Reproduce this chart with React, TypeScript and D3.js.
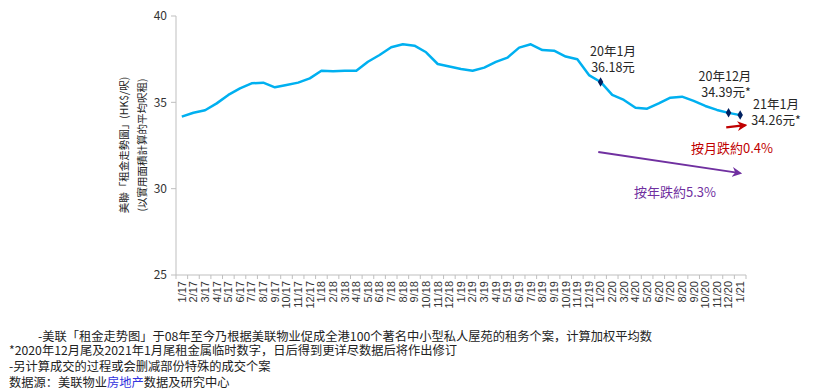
import React from "react";
import * as d3 from "d3";

const months: string[] = [
  "1/17","2/17","3/17","4/17","5/17","6/17","7/17","8/17","9/17","10/17","11/17","12/17",
  "1/18","2/18","3/18","4/18","5/18","6/18","7/18","8/18","9/18","10/18","11/18","12/18",
  "1/19","2/19","3/19","4/19","5/19","6/19","7/19","8/19","9/19","10/19","11/19","12/19",
  "1/20","2/20","3/20","4/20","5/20","6/20","7/20","8/20","9/20","10/20","11/20","12/20",
  "1/21",
];

const rents: number[] = [
  34.17, 34.40, 34.54, 34.94, 35.43, 35.81, 36.10, 36.14, 35.87, 36.00, 36.14, 36.39,
  36.83, 36.80, 36.83, 36.83, 37.35, 37.74, 38.19, 38.36, 38.28, 37.90, 37.22, 37.07,
  36.93, 36.83, 37.01, 37.34, 37.59, 38.17, 38.36, 38.03, 37.99, 37.65, 37.49, 36.58,
  36.18, 35.43, 35.14, 34.69, 34.63, 34.94, 35.27, 35.33, 35.08, 34.79, 34.56, 34.39,
  34.26,
];

const yTicks: number[] = [25, 30, 35, 40];
const markedMonths: string[] = ["1/20", "12/20", "1/21"];

const footnotes: string[] = [
  "-美联「租金走势图」于08年至今乃根据美联物业促成全港100个著名中小型私人屋苑的租务个案，计算加权平均数",
  "*2020年12月尾及2021年1月尾租金属临时数字，日后得到更详尽数据后将作出修订",
  "-另计算成交的过程或会删减部份特殊的成交个案",
];
const sourcePrefix = "数据源：美联物业";
const sourceBlue = "房地产";
const sourceSuffix = "数据及研究中心";

const W = 820;
const H = 392;
const cjkTC = "'Noto Sans CJK TC', 'Noto Sans', sans-serif";
const cjkSC = "'Noto Sans CJK SC', 'Noto Sans', sans-serif";

export default function App() {
  const x = d3.scaleBand<string>().domain(months).range([176, 746]).paddingInner(0).paddingOuter(0);
  const y = d3.scaleLinear().domain([25, 40]).range([275, 16]);
  const cx = (m: string) => (x(m) as number) + x.bandwidth() / 2;
  const xi = d3.scaleLinear().domain([0, months.length - 1]).range([cx(months[0]), cx(months[months.length - 1])]);

  const line = d3
    .line<number>()
    .x((_, i) => cx(months[i]))
    .y((d) => y(d))
    .curve(d3.curveLinear);

  const axisColor = "#bfbfbf";
  const boundaries = months.map((m) => x(m) as number).concat([746]);

  const diamond = d3.symbol().type(d3.symbolDiamond).size(26)() as string;

  const redArrow = { x1: 46.8, y1: 33.55, x2: 48.45, y2: 33.68 };
  const purpleArrow = { x1: 35.8, y1: 32.13, x2: 48.0, y2: 30.9 };

  return (
    <svg
      width={W}
      height={H}
      style={{ position: "absolute", left: 0, top: 0, background: "#fff" }}
      xmlns="http://www.w3.org/2000/svg"
    >
      <defs>
        <marker id="arrRed" viewBox="0 0 10 10" refX="8" refY="5" markerWidth="4" markerHeight="4" orient="auto">
          <path d="M0,0 L10,5 L0,10 L3,5 Z" fill="#c00000" />
        </marker>
        <marker id="arrPurple" viewBox="0 0 10 10" refX="8" refY="5" markerWidth="5" markerHeight="5" orient="auto">
          <path d="M0,0 L10,5 L0,10 L3,5 Z" fill="#7030a0" />
        </marker>
      </defs>

      {/* Y axis */}
      <line x1={176} x2={176} y1={y(40)} y2={y(25)} stroke={axisColor} strokeWidth={1} />
      {yTicks.map((t) => (
        <g key={t}>
          <line x1={171} x2={176} y1={y(t)} y2={y(t)} stroke={axisColor} />
          <text x={167} y={y(t)} dy="0.35em" textAnchor="end" fontSize={12} fill="#333" fontFamily={cjkTC}>
            {t}
          </text>
        </g>
      ))}

      {/* X axis */}
      <line x1={176} x2={746} y1={y(25)} y2={y(25)} stroke={axisColor} strokeWidth={1} />
      {boundaries.map((b, i) => (
        <line key={i} x1={b} x2={b} y1={y(25)} y2={y(25) + 4} stroke={axisColor} />
      ))}
      {months.map((m) => (
        <text
          key={m}
          transform={`translate(${cx(m)},${y(25) + 6}) rotate(-90)`}
          dy="0.35em"
          textAnchor="end"
          fontSize={11}
          fill="#333"
          fontFamily="'Liberation Sans', Arial, sans-serif"
        >
          {m}
        </text>
      ))}

      {/* Y axis title */}
      <g fontFamily={cjkTC} fontSize={10.5} fill="#222">
        <text transform={`translate(124,145) rotate(-90)`} textAnchor="middle" dy="0.35em">
          美聯「租金走勢圖」(HK$/呎)
        </text>
        <text transform={`translate(142,145) rotate(-90)`} textAnchor="middle" dy="0.35em">
          (以實用面積計算的平均呎租)
        </text>
      </g>

      {/* Line */}
      <path d={line(rents) as string} fill="none" stroke="#00b0f0" strokeWidth={2.5} strokeLinejoin="round" />

      {/* Markers */}
      {markedMonths.map((m) => {
        const i = months.indexOf(m);
        return <path key={m} d={diamond} transform={`translate(${cx(m)},${y(rents[i])})`} fill="#002060" />;
      })}

      {/* Annotations */}
      <g fontFamily={cjkTC} fontSize={12.5} fill="#262626" textAnchor="middle">
        <text x={613} y={52} dy="0.35em">20年1月</text>
        <text x={613} y={68} dy="0.35em">{rents[36].toFixed(2)}元</text>
        <text x={725} y={77} dy="0.35em">20年12月</text>
        <text x={726} y={93} dy="0.35em">{rents[47].toFixed(2)}元*</text>
        <text x={776} y={105} dy="0.35em">21年1月</text>
        <text x={776} y={121} dy="0.35em">{rents[48].toFixed(2)}元*</text>
      </g>

      <line
        x1={xi(redArrow.x1)}
        y1={y(redArrow.y1)}
        x2={xi(redArrow.x2)}
        y2={y(redArrow.y2)}
        stroke="#c00000"
        strokeWidth={2.5}
        markerEnd="url(#arrRed)"
      />
      <text x={732} y={148} dy="0.35em" textAnchor="middle" fontSize={13} fill="#c00000" fontFamily={cjkTC}>
        按月跌約0.4%
      </text>

      <line
        x1={xi(purpleArrow.x1)}
        y1={y(purpleArrow.y1)}
        x2={xi(purpleArrow.x2)}
        y2={y(purpleArrow.y2)}
        stroke="#7030a0"
        strokeWidth={2}
        markerEnd="url(#arrPurple)"
      />
      <text x={675} y={192} dy="0.35em" textAnchor="middle" fontSize={13} fill="#7030a0" fontFamily={cjkTC}>
        按年跌約5.3%
      </text>

      {/* Footnotes */}
      <g fontFamily={cjkSC} fontSize={12.25} fill="#222">
        <text x={38} y={341}>{footnotes[0]}</text>
        <text x={9} y={355}>{footnotes[1]}</text>
        <text x={9} y={371}>{footnotes[2]}</text>
        <text x={9} y={387}>
          {sourcePrefix}
          <tspan fill="#3333dd">{sourceBlue}</tspan>
          {sourceSuffix}
        </text>
      </g>
    </svg>
  );
}
